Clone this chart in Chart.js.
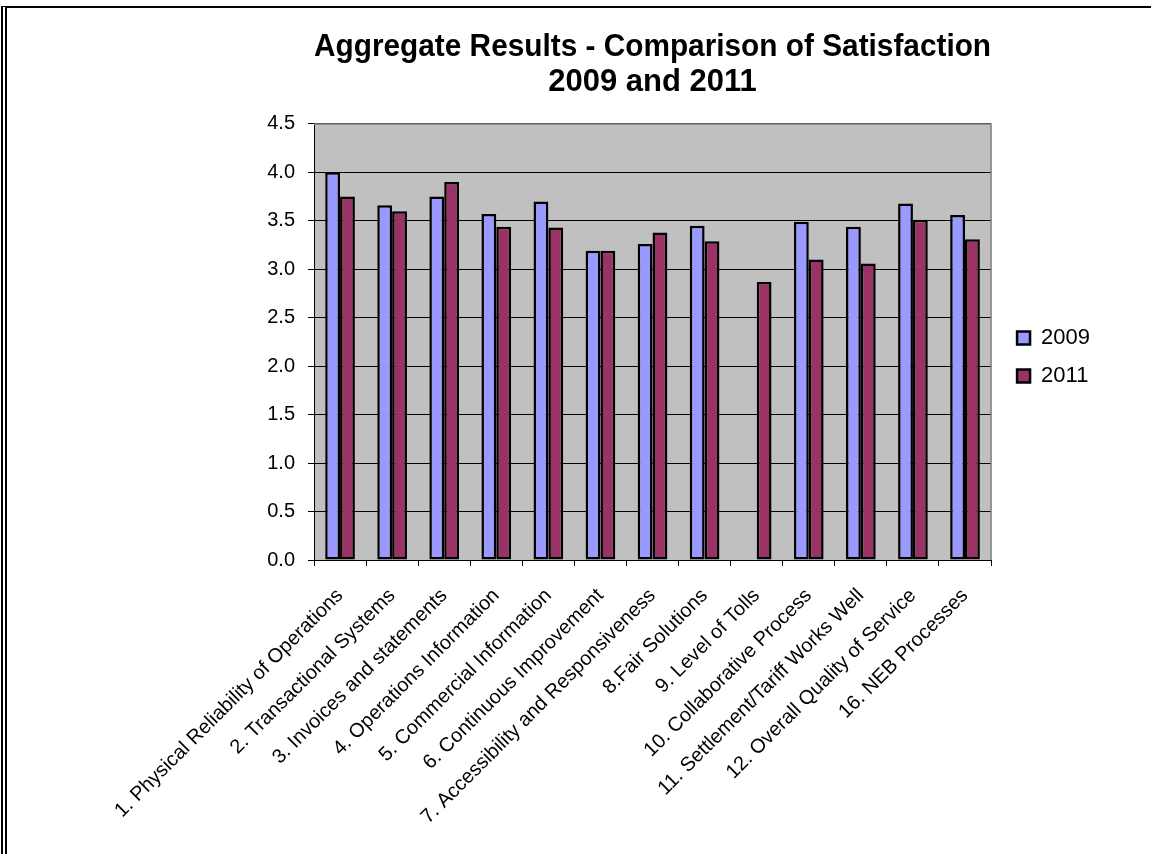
<!DOCTYPE html>
<html>
<head>
<meta charset="utf-8">
<title>Aggregate Results - Comparison of Satisfaction</title>
<script src="https://cdn.jsdelivr.net/npm/chart.js@4"></script>
<style>
  body { margin: 0; background: #fff; }
  #wrap { position: relative; width: 1151px; height: 854px; overflow: hidden; }
  #frame {
    position: absolute; left: 1px; top: 6px; right: 0; bottom: -10px;
    border-top: 2px solid #000; border-left: 6px double #000;
    pointer-events: none;
  }
</style>
</head>
<body>
<div id="wrap">
  <canvas id="chart" width="1151" height="854"></canvas>
  <div id="frame"></div>
</div>
<script>
const categories = [
  "1. Physical Reliability of Operations",
  "2. Transactional Systems",
  "3. Invoices and statements",
  "4. Operations Information",
  "5. Commercial Information",
  "6. Continuous Improvement",
  "7. Accessibility and Responsiveness",
  "8.Fair Solutions",
  "9. Level of Tolls",
  "10. Collaborative Process",
  "11. Settlement/Tariff Works Well",
  "12. Overall Quality of Service",
  "16. NEB Processes"
];
const values2009 = [4.0, 3.66, 3.75, 3.57, 3.70, 3.19, 3.26, 3.45, null, 3.49, 3.44, 3.68, 3.56];
const values2011 = [3.75, 3.60, 3.90, 3.44, 3.43, 3.19, 3.38, 3.29, 2.87, 3.10, 3.06, 3.51, 3.31];
const seriesNames = ["2009", "2011"];
const titleLines = ["Aggregate Results - Comparison of Satisfaction", "2009 and 2011"];

Chart.defaults.font.family = "'Liberation Sans', Arial, sans-serif";
Chart.defaults.color = "#000";

// grey plot area with a thin grey frame on top and right
const plotBackground = {
  id: "plotBackground",
  beforeDraw(chart) {
    const a = chart.chartArea;
    const c = chart.ctx;
    c.save();
    c.fillStyle = "#c0c0c0";
    c.fillRect(a.left, a.top, a.right - a.left, a.bottom - a.top);
    c.restore();
  },
  beforeDatasetsDraw(chart) {
    const a = chart.chartArea;
    const c = chart.ctx;
    c.save();
    c.strokeStyle = "#808080";
    c.lineWidth = 1.5;
    c.beginPath();
    c.moveTo(a.left, a.top);
    c.lineTo(a.right, a.top);
    c.lineTo(a.right, a.bottom);
    c.stroke();
    c.restore();
  }
};

// move the legend a little right and down, as in the original
const nudgeLegend = {
  id: "nudgeLegend",
  afterLayout(chart) {
    const lg = chart.legend;
    lg.left += 10; lg.right += 10;
    lg.top += 15; lg.bottom += 15;
  }
};

const ctx = document.getElementById("chart");
const chart = new Chart(ctx, {
  type: "bar",
  data: {
    labels: categories,
    datasets: [
      {
        label: seriesNames[0],
        data: values2009,
        backgroundColor: "#9999ff",
        borderColor: "#000",
        borderWidth: 2.5,
        borderSkipped: false
      },
      {
        label: seriesNames[1],
        data: values2011,
        backgroundColor: "#993366",
        borderColor: "#000",
        borderWidth: 2.5,
        borderSkipped: false
      }
    ]
  },
  options: {
    responsive: false,
    animation: false,
    layout: { padding: { left: 0, right: 61, top: 0, bottom: 0 } },
    datasets: {
      bar: { categoryPercentage: 0.57, barPercentage: 1.0 }
    },
    scales: {
      x: {
        grid: {
          offset: true,
          drawOnChartArea: false,
          drawTicks: true,
          tickLength: 6,
          color: "#000"
        },
        border: { display: true, color: "#000", width: 1 },
        ticks: {
          autoSkip: false,
          maxRotation: 45,
          minRotation: 45,
          padding: 18,
          font: { size: 20 },
          color: "#000"
        },
        afterFit(scale) { scale.height = 294; }
      },
      y: {
        min: 0,
        max: 4.5,
        grid: { color: "#000", lineWidth: 1, tickLength: 6 },
        border: { display: true, color: "#000", width: 1 },
        ticks: {
          stepSize: 0.5,
          padding: 13,
          font: { size: 20 },
          color: "#000",
          callback: v => v.toFixed(1)
        },
        afterFit(scale) { scale.width = 314; }
      }
    },
    plugins: {
      title: {
        display: true,
        fullSize: false,
        text: titleLines,
        color: "#000",
        font: { size: 31, weight: "bold", lineHeight: 1.16 },
        padding: { top: 29, bottom: 23 }
      },
      legend: {
        position: "right",
        fullSize: false,
        labels: {
          boxWidth: 13,
          boxHeight: 13,
          padding: 16,
          color: "#000",
          font: { size: 22 }
        }
      },
      tooltip: { enabled: false }
    }
  },
  plugins: [plotBackground, nudgeLegend]
});
</script>
</body>
</html>
